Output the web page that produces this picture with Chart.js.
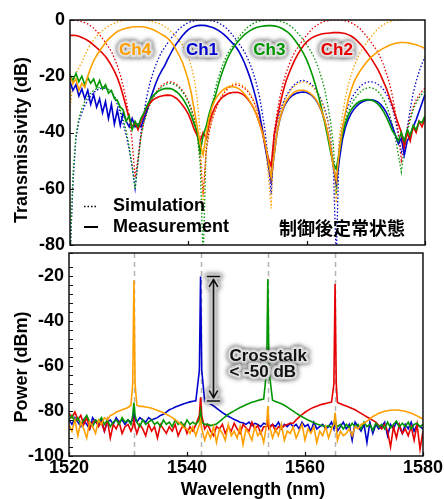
<!DOCTYPE html>
<html>
<head>
<meta charset="utf-8">
<script src="https://cdn.jsdelivr.net/npm/chart.js@4.4.0/dist/chart.umd.min.js"></script>
<style>
html, body { margin: 0; padding: 0; background: #fff; }
#wrap { position: relative; width: 444px; height: 499px; overflow: hidden; }
#wrap canvas { position: absolute; left: 0; top: 0; }
</style>
</head>
<body>
<div id="wrap">
  <canvas id="topChart" width="444" height="499"></canvas>
  <canvas id="bottomChart" width="444" height="499"></canvas>
</div>
<script>
// ---- data: top panel (transmissivity, dB) ----
const wlTop = [
  1520, 1520.5, 1521, 1521.5, 1522, 1522.5, 1523, 1523.5, 1524, 1524.5,
  1525, 1525.5, 1526, 1526.5, 1527, 1527.5, 1528, 1528.5, 1529, 1529.5,
  1530, 1530.5, 1531, 1531.5, 1532, 1532.5, 1533, 1533.5, 1534, 1534.5,
  1535, 1535.5, 1536, 1536.5, 1537, 1537.5, 1538, 1538.5, 1539, 1539.5,
  1540, 1540.5, 1541, 1541.5, 1542, 1542.5, 1543, 1543.5, 1544, 1544.5,
  1545, 1545.5, 1546, 1546.5, 1547, 1547.5, 1548, 1548.5, 1549, 1549.5,
  1550, 1550.5, 1551, 1551.5, 1552, 1552.5, 1553, 1553.5, 1554, 1554.5,
  1555, 1555.5, 1556, 1556.5, 1557, 1557.5, 1558, 1558.5, 1559, 1559.5,
  1560, 1560.5, 1561, 1561.5, 1562, 1562.5, 1563, 1563.5, 1564, 1564.5,
  1565, 1565.5, 1566, 1566.5, 1567, 1567.5, 1568, 1568.5, 1569, 1569.5,
  1570, 1570.5, 1571, 1571.5, 1572, 1572.5, 1573, 1573.5, 1574, 1574.5,
  1575, 1575.5, 1576, 1576.5, 1577, 1577.5, 1578, 1578.5, 1579, 1579.5,
  1580
];

// simulation (dotted)
const simCh4 = [
  -32, -22, -19, -17, -15, -12.5, -10.5, -8.5, -7, -5.7,
  -4.6, -3.7, -2.9, -2.2, -1.6, -1.1, -0.7, -0.4, -0.2, -0.1,
  0, 0, 0, 0, 0, -0.1, -0.2, -0.4, -0.6, -0.9,
  -1.2, -1.7, -2.3, -3, -3.9, -5, -6.2, -7.5, -8.8, -10.5,
  -13, -16.5, -21, -28, -40, -65, -46, -39.5, -35.2, -32,
  -29.3, -27.3, -25.6, -24.3, -23.4, -22.8, -22.5, -22.6, -23.1, -23.8,
  -24.8, -26.3, -28.3, -30.8, -34, -38, -44, -55, -67, -42,
  -36.7, -32.9, -30, -27.6, -25.9, -24.5, -23.3, -22.6, -22.1, -22,
  -22.3, -22.9, -23.8, -25.1, -26.8, -29, -31.8, -35.5, -41, -50,
  -65, -42, -34.5, -28, -23.4, -19.6, -16.6, -14, -11.7, -10.1,
  -8.5, -7.1, -5.7, -4.4, -3.2, -2.4, -1.6, -1, -0.6, -0.3,
  -0.1, 0, 0, 0.5, 1, 1, 1, 1, 1, 1,
  1
];
const simCh1 = [
  -85, -58, -42, -36, -33, -30.5, -28.5, -27, -25.8, -25,
  -24.4, -24.2, -24.3, -24.8, -25.6, -27.5, -30, -33, -37, -41,
  -46, -52, -60, -50, -40, -33, -27, -22.5, -19, -16,
  -13.5, -11.3, -9.8, -8.2, -6.8, -5.4, -4.2, -3, -2.2, -1.5,
  -0.9, -0.5, -0.3, -0.1, 0, 0, 0, -0.1, -0.3, -0.5,
  -0.9, -1.5, -2.2, -3, -4.2, -5.4, -6.8, -8.2, -9.8, -11.3,
  -13.5, -16, -19, -22.5, -27, -33, -40, -50, -62, -42,
  -36, -32.3, -29.5, -27.1, -25.4, -24, -22.8, -22.1, -21.6, -21.5,
  -21.8, -22.4, -23.3, -24.6, -26.3, -28.5, -31.3, -35, -40.5, -52,
  -85, -45, -38, -34, -30.8, -28.3, -26.4, -24.9, -23.7, -22.8,
  -22.3, -22, -22, -22.2, -22.8, -23.6, -24.8, -26.4, -28.5, -31.5,
  -35.5, -41, -47, -44, -38.5, -31.8, -26, -21.8, -18.4, -15.5,
  -13
];
const simCh3 = [
  -85, -55, -41, -35, -31.5, -29, -27.3, -26, -25, -24.4,
  -24, -23.9, -24.1, -24.6, -25.5, -27, -29, -31.8, -35.3, -39.5,
  -45, -52, -60, -50.5, -41.5, -36.5, -33, -30.2, -28, -26.3,
  -24.9, -23.8, -23.1, -22.6, -22.5, -22.8, -23.4, -24.3, -25.5, -27.1,
  -29.3, -32, -35.5, -41, -51, -85, -46, -37, -30.5, -25,
  -21, -17.8, -15, -12.6, -10.7, -9.2, -7.6, -6.2, -4.9, -3.7,
  -2.6, -1.9, -1.2, -0.7, -0.4, -0.2, 0, 0, 0, 0,
  -0.2, -0.4, -0.7, -1.1, -1.8, -2.5, -3.5, -4.7, -5.9, -7.3,
  -8.8, -10.4, -12.2, -14.5, -17.2, -20.4, -24.2, -29.5, -35.7, -44,
  -62, -47, -40, -36, -32.8, -30.3, -28.4, -26.9, -25.7, -24.8,
  -24.3, -24, -24.1, -24.5, -25.3, -26.5, -28.2, -30.5, -33.5, -37.5,
  -42, -48, -54, -46, -40, -35.5, -32, -29.5, -27.7, -26.3,
  -25.3
];
const simCh2 = [
  0, 0, -0.1, -0.3, -0.5, -0.9, -1.4, -2.1, -2.9, -4,
  -5.2, -6.6, -8, -9.6, -11.2, -13.6, -16.2, -19.5, -23.5, -28.5,
  -34.5, -43, -56, -49, -41, -36, -32.5, -29.7, -27.5, -25.8,
  -24.4, -23.3, -22.6, -22.1, -22, -22.3, -22.9, -23.8, -25, -26.6,
  -28.8, -31.5, -35, -40.5, -49, -62, -47, -40, -35.7, -32.5,
  -29.8, -27.8, -26.1, -24.8, -23.9, -23.3, -23, -23.1, -23.6, -24.3,
  -25.3, -26.8, -28.8, -31.3, -34.5, -38.5, -44, -52, -58, -40,
  -33, -27, -22.5, -19, -16, -13.5, -11.3, -9.8, -8.2, -6.8,
  -5.4, -4.2, -3, -2.2, -1.5, -0.9, -0.5, -0.3, -0.1, 0,
  0, 0, -0.1, -0.3, -0.5, -0.9, -1.5, -2.2, -3, -4.2,
  -5.4, -6.8, -8.2, -9.8, -11.3, -13.5, -16, -19, -22.5, -27,
  -33, -40, -50, -45, -39, -34.5, -31, -28.5, -26.7, -25.3,
  -24.3
];

// measurement (solid)
const measCh4 = [
  -20, -22.5, -21, -25, -22.5, -24, -20, -17, -14.5, -12.6,
  -11, -9.5, -8, -6.8, -5.8, -4.9, -4.1, -3.6, -3.2, -2.9,
  -2.7, -2.5, -2.4, -2.4, -2.4, -2.5, -2.7, -3, -3.4, -3.9,
  -4.5, -5.1, -5.7, -6.5, -7.6, -9, -10.8, -12.8, -15, -18,
  -21.5, -26, -32, -38, -44, -48, -41, -35, -31, -28.5,
  -26.8, -25.5, -24.6, -24, -23.7, -23.7, -23.9, -24.4, -25.2, -26.3,
  -27.6, -29.2, -31, -33.5, -36.5, -40, -44, -50, -56, -48,
  -40, -35, -31.5, -29, -27.5, -26.3, -25.5, -25.1, -25, -25,
  -25.3, -25.9, -26.8, -28, -29.8, -32.2, -35.3, -39.5, -45, -52,
  -57, -47, -39, -33.5, -28.5, -25, -22, -20, -18.2, -16.7,
  -15.3, -14.1, -13, -12.1, -11.3, -10.6, -10, -9.5, -9, -8.6,
  -8.3, -8.1, -8, -8, -8.1, -8.3, -8.5, -8.8, -9.2, -9.6,
  -10.1
];
const measCh1 = [
  -22, -25, -23, -27, -24.5, -28, -25, -30, -26.5, -31,
  -28, -33, -29, -35, -30, -37, -32, -37.5, -33, -36,
  -38, -35, -38, -37, -38, -35, -32, -28.5, -25.5, -22.5,
  -20, -18, -16.2, -14, -12, -10, -8.4, -7, -5.6, -4.4,
  -3.4, -2.7, -2.3, -2, -1.9, -1.9, -2, -2.3, -2.6, -3,
  -3.6, -4.3, -5.1, -6.1, -7.2, -8.3, -9.4, -11, -13, -15.3,
  -18, -21, -24.5, -28.5, -33, -39, -45.5, -51, -57, -48,
  -40, -35, -31.8, -29.5, -28, -27, -26.3, -25.9, -25.7, -25.6,
  -25.8, -26.3, -27.1, -28.3, -30, -32.3, -35.5, -39.5, -45, -52,
  -58, -50, -43, -38.5, -35.5, -33.3, -31.7, -30.5, -29.6, -29,
  -28.6, -28.4, -28.4, -28.6, -29.1, -30, -31.3, -33, -35.3, -38,
  -41, -44, -42, -48, -43, -41, -38, -35.5, -32.5, -29.5,
  -26.5
];
const measCh3 = [
  -19.5, -21.5, -19, -22, -20, -23, -20.5, -22.5, -21, -24,
  -21.5, -24.5, -23, -26, -25, -28, -28.5, -31, -32, -36,
  -34, -39, -36, -38, -35, -33, -30.5, -28.5, -27, -26,
  -25.2, -24.7, -24.4, -24.3, -24.4, -24.8, -25.5, -26.5, -27.8, -29.5,
  -31.5, -34, -37, -40, -47, -41, -38, -33.5, -30, -27.5,
  -23.5, -20, -17, -14.3, -12, -10.2, -8.7, -7.4, -6.2, -5.2,
  -4.4, -3.7, -3.1, -2.7, -2.4, -2.2, -2.1, -2, -2, -2.1,
  -2.3, -2.7, -3.2, -3.9, -4.7, -5.8, -7.1, -8.6, -10.2, -12,
  -14.2, -16.8, -19.8, -23.2, -27, -31.2, -36, -41, -46.5, -51,
  -53, -47, -41, -37, -34, -32, -30.6, -29.6, -28.9, -28.5,
  -28.3, -28.3, -28.5, -29, -29.8, -31, -32.6, -34.6, -37, -39.5,
  -41, -43, -40, -43, -39, -41, -37.5, -39, -36, -36.5,
  -34
];
const measCh2 = [
  -5.5, -5.4, -5.5, -5.8, -6.2, -6.7, -7.3, -8, -8.9, -9.8,
  -10.8, -11.8, -13, -14.5, -16.2, -18.2, -20.5, -23.5, -27, -31,
  -35, -38, -36.5, -39, -36, -33.5, -31, -29.5, -28.5, -27.8,
  -27.3, -27, -26.8, -26.7, -26.8, -27.2, -27.9, -28.9, -30.2, -31.7,
  -33.5, -36, -39, -41, -43, -40, -42, -37, -33.5, -31,
  -29.3, -28, -27.1, -26.4, -26, -25.8, -25.7, -25.8, -26.2, -26.9,
  -28, -29.4, -31.2, -33.5, -36.5, -40, -44.5, -49, -52, -41,
  -35, -30, -25.5, -21.8, -19, -16.5, -14.2, -12.2, -10.5, -9,
  -7.8, -6.9, -6.2, -5.7, -5.3, -5, -4.8, -4.7, -4.6, -4.5,
  -4.5, -4.5, -4.6, -4.8, -5.2, -5.7, -6.4, -7.3, -8.4, -9.6,
  -11, -12.5, -14, -15.7, -17.5, -19.6, -22, -24.5, -27.5, -30.5,
  -34, -37, -40, -45, -40, -43, -38, -40, -36, -38,
  -35
];

// ---- data: bottom panel (power, dBm) ----
const wlBottom = [
  1520, 1520.5, 1521, 1521.5, 1522, 1522.5, 1523, 1523.5, 1524, 1524.5,
  1525, 1525.5, 1526, 1526.5, 1527, 1527.5, 1528, 1528.5, 1529, 1529.5,
  1530, 1530.5, 1530.8, 1531, 1531.2, 1531.5, 1532, 1532.5, 1533, 1533.5,
  1534, 1534.5, 1535, 1535.5, 1536, 1536.5, 1537, 1537.5, 1538, 1538.5,
  1539, 1539.5, 1540, 1540.5, 1541, 1541.5, 1542.1, 1542.3, 1542.5, 1543,
  1543.5, 1544, 1544.5, 1545, 1545.5, 1546, 1546.5, 1547, 1547.5, 1548,
  1548.5, 1549, 1549.5, 1550, 1550.5, 1551, 1551.5, 1552, 1552.5, 1553,
  1553.5, 1553.7, 1553.9, 1554.5, 1555, 1555.5, 1556, 1556.5, 1557, 1557.5,
  1558, 1558.5, 1559, 1559.5, 1560, 1560.5, 1561, 1561.5, 1562, 1562.5,
  1563, 1563.5, 1564, 1564.5, 1564.9, 1565.1, 1565.3, 1565.5, 1566, 1566.5,
  1567, 1567.5, 1568, 1568.5, 1569, 1569.5, 1570, 1570.5, 1571, 1571.5,
  1572, 1572.5, 1573, 1573.5, 1574, 1574.5, 1575, 1575.5, 1576, 1576.5,
  1577, 1577.5, 1578, 1578.5, 1579, 1579.5, 1580
];
const powCh4 = [
  -86, -89, -84, -91, -85, -88, -92, -85, -87, -90,
  -84, -86, -83, -84, -82, -81.5, -80.5, -80, -79.5, -79,
  -78.5, -77.5, -68, -22.2, -68, -77.5, -78, -78, -78.3, -78.5,
  -78.8, -79.3, -79.8, -80.3, -80.8, -81.5, -82.2, -83, -84, -85,
  -86, -87.5, -88, -90, -87, -91, -86, -84, -88, -93,
  -89, -92, -87, -94, -88, -90, -93, -86, -91, -89,
  -92, -87, -95, -88, -90, -93, -87, -91, -89, -94,
  -86, -77.8, -86, -92, -88, -91, -86, -93, -89, -90,
  -87, -92, -89, -86, -93, -88, -90, -87, -94, -89,
  -91, -87, -92, -88, -86, -80.7, -87, -93, -89, -91,
  -90, -88, -91, -87, -88, -86, -85.5, -84.5, -83.5, -82.5,
  -81.8, -81, -80.6, -80.2, -79.9, -79.7, -79.6, -79.6, -79.7, -79.9,
  -80.2, -80.6, -81, -81.6, -82.2, -82.9, -83.6
];
const powCh1 = [
  -84, -86, -83, -85, -87, -84, -86, -88, -83, -85,
  -86, -84, -89, -85, -84, -86, -83, -85, -84, -86,
  -84, -85, -84, -81, -84, -85, -83, -84, -85, -83,
  -84, -83.5, -83, -82, -81.5, -80.5, -79.5, -79, -78.3, -77.8,
  -77.3, -76.8, -76.4, -76, -75.7, -75.5, -62, -20.4, -62, -75.8,
  -76.3, -77, -77.8, -78.8, -79.8, -80.8, -81.6, -82.4, -83.1, -83.8,
  -84.4, -85, -85.3, -86, -85, -86.5, -85.5, -86, -87, -85.5,
  -86, -84, -87, -86, -87, -85, -88, -86, -87, -85.5,
  -87, -86, -88, -85, -87, -86, -89, -85, -88, -87,
  -86, -88, -87, -85, -88, -84, -86, -89, -87, -85,
  -88, -86, -93, -85, -87, -89, -86, -94, -85, -90,
  -86, -88, -87, -85, -91, -86, -88, -85, -87, -90,
  -86, -88, -85, -89, -86, -87, -88
];
const powCh3 = [
  -84, -82, -85, -83, -86, -84, -82, -85, -87, -84,
  -85, -83, -86, -84, -87, -85, -84, -86, -83, -85,
  -84, -86, -82, -76.3, -82, -85, -87, -84, -86, -85,
  -84, -86, -85, -87, -84, -86, -85, -87, -84, -86,
  -85, -87, -84, -86, -85, -86, -84, -80, -85, -86,
  -86, -86.5, -86.2, -85.8, -84.8, -83.7, -82.5, -81.5, -80.7, -80,
  -79.2, -78.5, -77.9, -77.3, -76.7, -76.2, -75.8, -75.4, -75, -74.8,
  -62, -21.5, -62, -75.3, -75.8, -76.3, -76.8, -77.5, -78.3, -79.2,
  -80.1, -81, -81.8, -82.6, -83.3, -84, -84.6, -85.2, -85.8, -86.3,
  -86.6, -87, -86.5, -87.5, -86, -83, -86.5, -87, -86, -88,
  -86, -87.5, -85.5, -87, -86, -88, -85, -87, -86, -88.5,
  -85.5, -87, -86, -88, -85, -87.5, -86, -84.5, -87, -85.5,
  -87, -85, -88, -86, -85.5, -87, -86
];
const powCh2 = [
  -81, -83, -80.5, -84, -82, -86, -83, -88, -85, -84,
  -87, -85, -89, -84, -92, -86, -88, -85, -90, -87,
  -86, -89, -87, -84, -87, -90, -86, -88, -91, -86,
  -89, -87, -92, -86, -88, -90, -87, -89, -86, -91,
  -88, -86, -90, -87, -89, -86, -82, -74, -82, -88,
  -86, -89, -91, -87, -88, -86, -90, -87, -89, -85.5,
  -88, -90, -86, -87.5, -89, -85, -88, -86.5, -90, -87,
  -87, -85, -88, -86, -89, -87, -88, -86.5, -86, -85.5,
  -85.5, -84, -82.8, -81.6, -80.6, -79.8, -79, -78.4, -77.9, -77.4,
  -77, -76.7, -76.4, -76.1, -68, -23.7, -68, -76.3, -76.8, -77.4,
  -77.8, -78.4, -78.9, -79.5, -80.3, -81.1, -81.9, -82.7, -83.4, -84.2,
  -85, -86.5, -88, -86, -89, -96, -87, -92, -86, -90,
  -88, -91, -87, -93, -86, -97, -89
];

// channel positions and labels
const channelWl = [1531.0, 1542.3, 1553.7, 1565.1];
const channelNames = ['Ch4', 'Ch1', 'Ch3', 'Ch2'];
const channelLabelDb = -10.7;
const arrowWl = 1544.4;
const arrowTopDbm = -20.4;
const arrowBottomDbm = -75.6;
const noteWl = 1547.2;
const noteLines = ['Crosstalk', '< -50 dB'];
const noteDbm = [-55.6, -63.1];

const colors = {
    ch1: '#0000cd',
    ch2: '#e60000',
    ch3: '#009600',
    ch4: '#ffa000'
};
const channelColors = [colors.ch4, colors.ch1, colors.ch3, colors.ch2];
const FONT = '"Liberation Sans", Arial, sans-serif';

function haloText(ctx, text, x, y, color, align) {
    ctx.save();
    ctx.font = 'bold 17px ' + FONT;
    ctx.textAlign = align || 'center';
    ctx.textBaseline = 'middle';
    ctx.lineJoin = 'round';
    ctx.shadowColor = 'rgba(0,0,0,0.65)';
    ctx.shadowBlur = 5;
    ctx.strokeStyle = '#c8c8c8';
    ctx.lineWidth = 6;
    ctx.strokeText(text, x, y);
    ctx.shadowBlur = 0;
    ctx.shadowColor = 'transparent';
    ctx.strokeStyle = '#e4e4e4';
    ctx.lineWidth = 3;
    ctx.strokeText(text, x, y);
    ctx.fillStyle = color;
    ctx.fillText(text, x, y);
    ctx.restore();
}

function rotatedTitle(ctx, text, x, y) {
    ctx.save();
    ctx.translate(x, y);
    ctx.rotate(-Math.PI / 2);
    ctx.font = 'bold 18px ' + FONT;
    ctx.fillStyle = '#000';
    ctx.textAlign = 'center';
    ctx.textBaseline = 'middle';
    ctx.fillText(text, 0, 0);
    ctx.restore();
}

// frame box + inward ticks
const framePlugin = {
    id: 'frame',
    afterDraw(chart) {
        const {ctx, chartArea: a, scales} = chart;
        ctx.save();
        ctx.strokeStyle = '#111';
        ctx.lineWidth = 1.2;
        ctx.beginPath();
        scales.y.ticks.forEach(t => {
            const y = Math.round(scales.y.getPixelForValue(t.value)) + 0.5;
            ctx.moveTo(a.left, y);
            ctx.lineTo(a.left + 4, y);
        });
        scales.x.ticks.forEach(t => {
            const x = Math.round(scales.x.getPixelForValue(t.value)) + 0.5;
            ctx.moveTo(x, a.bottom);
            ctx.lineTo(x, a.bottom - 4);
        });
        ctx.stroke();
        ctx.lineWidth = 1.5;
        ctx.strokeRect(a.left, a.top, a.right - a.left, a.bottom - a.top);
        ctx.restore();
    }
};

const topNotes = {
    id: 'topNotes',
    afterDraw(chart) {
        const {ctx, scales} = chart;
        channelNames.forEach((name, i) => {
            haloText(ctx, name, scales.x.getPixelForValue(channelWl[i]),
                scales.y.getPixelForValue(channelLabelDb), channelColors[i]);
        });

        // legend
        ctx.save();
        ctx.strokeStyle = '#000';
        ctx.lineWidth = 1.5;
        ctx.setLineDash([1.5, 2]);
        ctx.beginPath();
        ctx.moveTo(84, 206.5);
        ctx.lineTo(98, 206.5);
        ctx.stroke();
        ctx.setLineDash([]);
        ctx.lineWidth = 2;
        ctx.beginPath();
        ctx.moveTo(84, 227);
        ctx.lineTo(98, 227);
        ctx.stroke();
        ctx.font = 'bold 18px ' + FONT;
        ctx.fillStyle = '#000';
        ctx.textBaseline = 'middle';
        ctx.fillText('Simulation', 113, 206);
        ctx.fillText('Measurement', 113, 227);
        ctx.font = 'bold 18px "Noto Sans CJK JP", sans-serif';
        ctx.textAlign = 'center';
        ctx.fillText('制御後定常状態', 342, 228);
        ctx.restore();

        rotatedTitle(ctx, 'Transmissivity (dB)', 22, 140);
    }
};

const bottomNotes = {
    id: 'bottomNotes',
    beforeDatasetsDraw(chart) {
        const {ctx, chartArea: a, scales} = chart;
        ctx.save();
        ctx.strokeStyle = '#b4b4b4';
        ctx.lineWidth = 1.5;
        ctx.setLineDash([5, 4]);
        channelWl.forEach(w => {
            const x = Math.round(scales.x.getPixelForValue(w)) + 0.5;
            ctx.beginPath();
            ctx.moveTo(x, a.top);
            ctx.lineTo(x, a.bottom);
            ctx.stroke();
        });
        ctx.restore();
    },
    afterDraw(chart) {
        const {ctx, scales} = chart;
        const x = Math.round(scales.x.getPixelForValue(arrowWl)) + 0.5;
        const y1 = scales.y.getPixelForValue(arrowTopDbm);
        const y2 = scales.y.getPixelForValue(arrowBottomDbm);
        const path = () => {
            ctx.beginPath();
            ctx.moveTo(x - 6, y1); ctx.lineTo(x + 6, y1);
            ctx.moveTo(x - 6, y2); ctx.lineTo(x + 6, y2);
            ctx.moveTo(x, y1 + 3); ctx.lineTo(x, y2 - 3);
            ctx.moveTo(x - 4, y1 + 10); ctx.lineTo(x, y1 + 3); ctx.lineTo(x + 4, y1 + 10);
            ctx.moveTo(x - 4, y2 - 10); ctx.lineTo(x, y2 - 3); ctx.lineTo(x + 4, y2 - 10);
        };
        ctx.save();
        ctx.lineCap = 'round';
        ctx.lineJoin = 'round';
        ctx.shadowColor = 'rgba(0,0,0,0.55)';
        ctx.shadowBlur = 5;
        ctx.strokeStyle = '#c8c8c8';
        ctx.lineWidth = 6;
        path();
        ctx.stroke();
        ctx.shadowBlur = 0;
        ctx.shadowColor = 'transparent';
        ctx.strokeStyle = '#111';
        ctx.lineWidth = 1.6;
        path();
        ctx.stroke();
        ctx.restore();

        noteLines.forEach((line, i) => {
            haloText(ctx, line, scales.x.getPixelForValue(noteWl),
                scales.y.getPixelForValue(noteDbm[i]), '#111', 'left');
        });

        rotatedTitle(ctx, 'Power (dBm)', 22, 367);
        ctx.save();
        ctx.font = 'bold 18px ' + FONT;
        ctx.fillStyle = '#000';
        ctx.textAlign = 'center';
        ctx.textBaseline = 'middle';
        ctx.fillText('Wavelength (nm)', 253, 490);
        ctx.restore();
    }
};

function solid(data, color) {
    return { data, borderColor: color, borderWidth: 1.6, pointRadius: 0, tension: 0 };
}
function dotted(data, color) {
    return { data, borderColor: color, borderWidth: 1.3, borderDash: [1.5, 2],
        pointRadius: 0, tension: 0 };
}

const tickFont = { family: FONT, size: 18, weight: 'bold' };

new Chart(document.getElementById('topChart'), {
    type: 'line',
    data: {
        labels: wlTop,
        datasets: [
            solid(measCh4, colors.ch4),
            solid(measCh3, colors.ch3),
            solid(measCh2, colors.ch2),
            solid(measCh1, colors.ch1),
            dotted(simCh4, colors.ch4),
            dotted(simCh3, colors.ch3),
            dotted(simCh2, colors.ch2),
            dotted(simCh1, colors.ch1)
        ]
    },
    options: {
        responsive: false,
        animation: false,
        events: [],
        layout: { padding: { left: 0, top: 20, right: 19, bottom: 254 } },
        plugins: { legend: { display: false }, tooltip: { enabled: false } },
        scales: {
            x: {
                type: 'linear', min: 1520, max: 1580,
                ticks: { stepSize: 20, display: false },
                grid: { display: false }, border: { display: false },
                afterFit: s => { s.height = 0; }
            },
            y: {
                min: -80, max: 0,
                ticks: { stepSize: 20, color: '#000', font: tickFont, padding: 5 },
                grid: { display: false, drawTicks: false }, border: { display: false },
                afterFit: s => { s.width = 70; }
            }
        }
    },
    plugins: [framePlugin, topNotes]
});

new Chart(document.getElementById('bottomChart'), {
    type: 'line',
    data: {
        labels: wlBottom,
        datasets: [
            solid(powCh4, colors.ch4),
            solid(powCh3, colors.ch3),
            solid(powCh2, colors.ch2),
            solid(powCh1, colors.ch1)
        ]
    },
    options: {
        responsive: false,
        animation: false,
        events: [],
        layout: { padding: { left: 0, top: 253, right: 20, bottom: 0 } },
        plugins: { legend: { display: false }, tooltip: { enabled: false } },
        scales: {
            x: {
                type: 'linear', min: 1520, max: 1580,
                ticks: { stepSize: 20, color: '#000', font: tickFont, padding: 1,
                    maxRotation: 0, callback: v => String(v) },
                grid: { display: false, drawTicks: false }, border: { display: false },
                afterFit: s => { s.height = 43; }
            },
            y: {
                min: -100, max: -10,
                ticks: { stepSize: 4, autoSkip: false, color: '#000', font: tickFont, padding: 5,
                    callback: v => (v % 20 === 0 ? String(v) : '') },
                grid: { display: false, drawTicks: false }, border: { display: false },
                afterFit: s => { s.width = 69; }
            }
        }
    },
    plugins: [framePlugin, bottomNotes]
});
</script>
</body>
</html>
